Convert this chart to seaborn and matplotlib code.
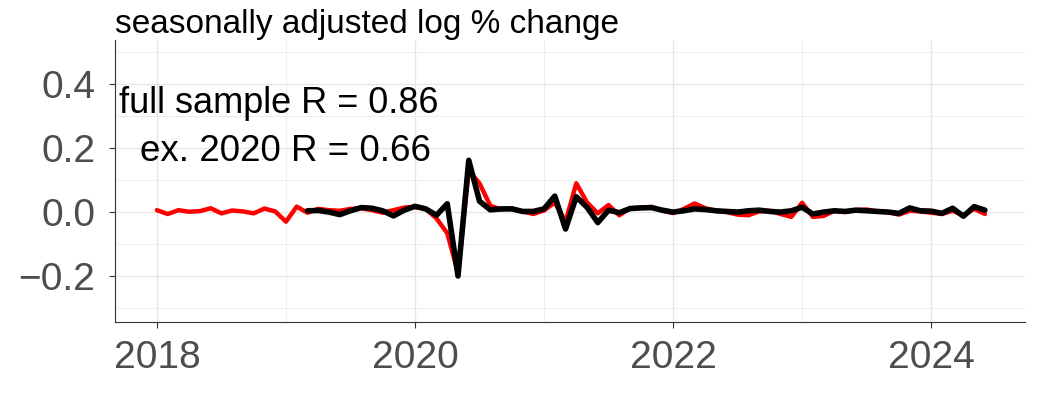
import numpy as np
import pandas as pd
import matplotlib.pyplot as plt
import seaborn as sns
from matplotlib.ticker import MultipleLocator

# monthly values, red from 2018-01, black from 2019-03 (both to 2024-06)
red_vals = [
    0.006, -0.006, 0.006, 0.001, 0.003, 0.012, -0.004, 0.005, 0.002, -0.004, 0.011, 0.002,
    -0.030, 0.017, -0.002, 0.010, 0.006, 0.004, 0.010, 0.012, 0.006, -0.002, 0.006, 0.014,
    0.016, 0.010, -0.020, -0.066, -0.190, 0.130, 0.090, 0.020, 0.008, 0.012, 0.002, -0.006,
    0.005, 0.030, -0.030, 0.090, 0.030, -0.004, 0.022, -0.010, 0.012, 0.014, 0.016, 0.004,
    -0.003, 0.010, 0.027, 0.012, 0.004, 0.000, -0.008, -0.010, 0.002, 0.004, -0.006, -0.015,
    0.029, -0.015, -0.012, 0.004, 0.000, 0.006, 0.008, 0.002, 0.000, -0.008, 0.004, 0.002,
    -0.002, -0.006, 0.004, -0.010, 0.010, -0.006,
]
black_vals = [
    0.004, 0.005, 0.000, -0.008, 0.004, 0.014, 0.012, 0.004, -0.012, 0.006,
    0.018, 0.010, -0.010, 0.026, -0.200, 0.162, 0.034, 0.007, 0.010, 0.010, 0.002, 0.002,
    0.010, 0.050, -0.053, 0.048, 0.015, -0.033, 0.006, -0.002, 0.011, 0.013, 0.014, 0.006,
    0.000, 0.004, 0.010, 0.008, 0.004, 0.002, 0.000, 0.004, 0.006, 0.002, 0.000, 0.004,
    0.015, -0.006, 0.000, 0.004, 0.002, 0.006, 0.004, 0.002, 0.000, -0.004, 0.013, 0.004,
    0.003, -0.004, 0.012, -0.013, 0.017, 0.006,
]
red_start = 2018.0
black_start = 2019.0 + 2 / 12

title_text = "seasonally adjusted log % change"
note_full = "full sample R = 0.86"
note_ex = "ex. 2020 R = 0.66"
x_ticks = [2018, 2020, 2022, 2024]
y_ticks = [-0.2, 0.0, 0.2, 0.4]

red = pd.DataFrame({"t": red_start + np.arange(len(red_vals)) / 12, "v": red_vals})
black = pd.DataFrame({"t": black_start + np.arange(len(black_vals)) / 12, "v": black_vals})

sns.set_theme(style="whitegrid")
plt.rcParams["font.family"] = ["Liberation Sans", "DejaVu Sans"]

fig, ax = plt.subplots(figsize=(10.44, 4.15), dpi=100)
fig.subplots_adjust(left=0.110, right=0.982, top=0.903, bottom=0.224)

sns.lineplot(data=red, x="t", y="v", color="#ff0000", linewidth=3.2, ax=ax)
sns.lineplot(data=black, x="t", y="v", color="black", linewidth=4.0, ax=ax)

ax.set_xlim(2017.674, 2024.729)
ax.set_ylim(-0.344, 0.5375)
ax.set_xticks(x_ticks)
ax.set_xticklabels([str(x) for x in x_ticks])
ax.set_yticks(y_ticks)
ax.set_yticklabels(["\u22120.2", "0.0", "0.2", "0.4"])
ax.xaxis.set_minor_locator(MultipleLocator(1))
ax.yaxis.set_minor_locator(MultipleLocator(0.1))
ax.grid(which="major", color="#e6e6e6", linewidth=1.0)
ax.grid(which="minor", color="#eeeeee", linewidth=0.8)
ax.tick_params(axis="both", which="major", labelsize=28, labelcolor="#4d4d4d",
               color="#333333", length=4, width=0.8, direction="out", bottom=True, left=True)
ax.tick_params(axis="x", which="major", pad=9)
ax.tick_params(axis="y", which="major", pad=10)
ax.tick_params(which="minor", length=0)
ax.set_xlabel("")
ax.set_ylabel("")
for side in ["top", "right"]:
    ax.spines[side].set_visible(False)
for side in ["left", "bottom"]:
    ax.spines[side].set_visible(True)
    ax.spines[side].set_color("#333333")
    ax.spines[side].set_linewidth(0.8)

ax.set_title(title_text, loc="left", fontsize=24, pad=5, color="black")
ax.text(2017.71, 0.34, note_full, fontsize=26, ha="left", va="center", color="black")
ax.text(2017.87, 0.19, note_ex, fontsize=26.5, ha="left", va="center", color="black")

plt.savefig("out.png", dpi=100)
